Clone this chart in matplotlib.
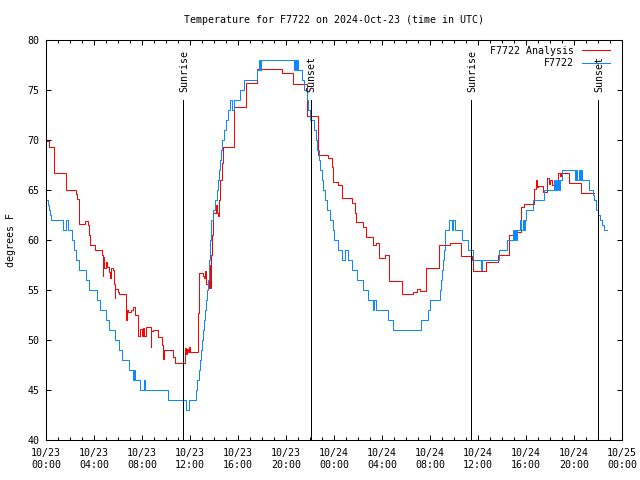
import numpy as np
import matplotlib
matplotlib.use("Agg")
import matplotlib.pyplot as plt

# ore dalle 00:00 UTC del 23 ottobre
blue_t = [0.0, 0.15, 0.25, 0.33, 0.42, 1.38, 1.64, 1.86, 2.17, 2.33, 2.5, 2.75, 3.37, 3.62,
          4.25, 4.5, 5.0, 5.25, 5.75, 6.08, 6.33, 6.92, 7.25, 7.33, 7.42, 7.83, 8.17, 8.25,
          10.17, 11.67, 11.92, 12.5, 12.62, 12.75, 12.83, 12.92, 13.0, 13.08, 13.17, 13.25,
          13.33, 13.42, 13.5, 13.58, 13.67, 13.75, 13.92, 14.08, 14.25, 14.33, 14.42, 14.5,
          14.58, 14.67, 14.83, 15.0, 15.17, 15.33, 15.5, 15.67, 16.17, 16.5, 17.58, 17.75,
          17.83, 17.92, 18.0, 20.69, 20.78, 20.86, 20.94, 21.03, 21.31, 21.53, 21.72, 21.83,
          22.04, 22.33, 22.5, 22.58, 22.71, 22.83, 22.96, 23.08, 23.25, 23.42, 23.67, 23.92,
          24.03, 24.33, 24.64, 24.92, 25.17, 25.5, 25.92, 26.42, 26.83, 27.25, 27.33, 27.5,
          28.5, 28.92, 31.25, 31.83, 32.0, 32.83, 32.92, 33.0, 33.08, 33.17, 33.25, 33.61,
          33.81, 33.89, 34.08, 34.67, 35.17, 35.56, 36.25, 36.36, 37.78, 38.44, 38.92, 39.0,
          39.08, 39.17, 39.25, 39.5, 39.6, 39.75, 39.85, 39.95, 40.0, 40.61, 41.5, 42.33,
          42.42, 42.5, 42.58, 42.67, 42.75, 42.83, 43.0, 44.08, 44.17, 44.29, 44.38, 44.5,
          44.58, 44.69, 45.28, 45.61, 45.67, 45.83, 46.0, 46.17, 46.33, 46.5, 46.72]
blue_v = [64, 63.5, 63, 62.5, 62, 61, 62, 61, 60, 59, 58, 57, 56, 55,
          54, 53, 52, 51, 50, 49, 48, 47, 46, 47, 46, 45, 46, 45,
          44, 43, 44, 45, 46, 47, 48, 49, 50, 51, 52, 53,
          54, 55, 56, 58, 60, 62, 63, 64, 65, 66, 67, 68,
          69, 70, 71, 72, 73, 74, 73, 74, 75, 76, 77, 78,
          77, 78, 78, 77, 78, 77, 78, 77, 76, 75, 74, 73,
          72, 71, 70, 69, 68, 67, 66, 65, 64, 63, 62, 61,
          60, 59, 58, 59, 58, 57, 56, 55, 54, 53, 54, 53,
          52, 51, 52, 53, 54, 55, 56, 57, 58, 59, 61, 62,
          61, 62, 61, 60, 59, 58, 57, 58, 59, 60, 61, 60,
          61, 60, 61, 62, 61, 62, 61, 62, 63, 64, 65, 66,
          65, 66, 65, 66, 65, 66, 67, 66, 67, 66, 67, 66,
          67, 66, 65, 64.5, 64, 63, 62.5, 62, 61.5, 61, 61]

red_t = [0.0, 0.25, 0.69, 1.64, 2.5, 2.58, 2.75, 3.25, 3.5, 3.62, 3.67, 4.08, 4.67, 4.72,
         4.78, 4.86, 5.0, 5.11, 5.28, 5.36, 5.4, 5.42, 5.56, 5.67, 5.72, 5.78, 5.97, 6.11,
         6.64, 6.69, 6.75, 6.83, 7.08, 7.25, 7.42, 7.64, 7.83, 7.96, 8.08, 8.19, 8.36, 8.72,
         8.78, 8.89, 9.33, 9.67, 9.78, 9.83, 10.61, 10.72, 11.58, 11.69, 11.75, 11.83, 11.94,
         12.03, 12.64, 12.72, 13.11, 13.19, 13.25, 13.36, 13.56, 13.62, 13.67, 13.75, 13.81,
         13.89, 14.17, 14.22, 14.33, 14.42, 14.5, 14.64, 14.72, 15.67, 16.64, 17.61, 19.64,
         20.61, 21.72, 22.64, 23.53, 23.81, 23.92, 23.94, 24.36, 24.64, 25.53, 25.75, 25.83,
         26.44, 26.67, 27.28, 27.5, 27.75, 28.25, 28.61, 29.69, 30.61, 30.92, 31.17, 31.67,
         32.78, 33.67, 34.56, 35.47, 35.61, 36.67, 37.69, 38.61, 39.08, 39.56, 39.83, 40.69,
         40.83, 40.92, 41.0, 41.42, 41.72, 41.88, 42.0, 42.17, 42.33, 42.69, 42.83, 42.88,
         43.61, 44.61, 45.67]
red_v = [69.9, 69.3, 66.7, 65.0, 64.6, 64.1, 61.6, 61.9, 61.5, 60.5, 59.5, 59.0, 58.5, 56.4,
         58.3, 57.2, 57.8, 57.3, 56.8, 56.2, 56.8, 57.2, 57.0, 55.6, 54.2, 55.1, 54.8, 54.6,
         53.2, 52.0, 53.0, 52.8, 53.0, 53.3, 52.5, 50.4, 51.1, 50.4, 51.2, 50.4, 51.3, 49.3,
         50.9, 51.0, 50.3, 49.5, 48.1, 49.0, 48.3, 47.7, 49.2, 48.6, 49.1, 48.8, 49.3,
         48.8, 52.7, 56.7, 56.4, 56.2, 56.9, 55.6, 55.2, 57.5, 55.2, 58.5, 60.5,
         62.7, 63.5, 62.7, 62.4, 64.0, 66.0, 67.7, 69.3, 73.3, 75.7, 77.1, 76.7,
         75.6, 72.4, 68.5, 68.2, 67.3, 66.7, 65.8, 65.5, 64.2, 63.7, 62.7, 61.8,
         61.3, 60.3, 59.5, 59.7, 58.2, 58.5, 55.9, 54.6, 54.8, 55.1, 54.9, 57.2,
         59.5, 59.7, 58.4, 58.0, 56.9, 57.8, 58.5, 60.5, 60.8, 63.3, 63.6, 65.1,
         66.0, 65.3, 65.4, 64.8, 66.2, 65.6, 66.0, 65.5, 65.8, 66.7, 66.4, 66.7,
         65.7, 64.7, 64.7]

sun_t = [11.44, 22.06, 35.44, 46.03]
sun_labels = ["Sunrise", "Sunset", "Sunrise", "Sunset"]

xticks = list(range(0, 49, 4))
xtick_labels = ["10/23\n00:00", "10/23\n04:00", "10/23\n08:00", "10/23\n12:00",
                "10/23\n16:00", "10/23\n20:00", "10/24\n00:00", "10/24\n04:00",
                "10/24\n08:00", "10/24\n12:00", "10/24\n16:00", "10/24\n20:00",
                "10/25\n00:00"]
yticks = [40, 45, 50, 55, 60, 65, 70, 75, 80]

plt.rcParams['font.family'] = ['DejaVu Sans Mono']
plt.rcParams['font.size'] = 7.2

fig = plt.figure(figsize=(6.4, 4.8), dpi=100)
ax = fig.add_axes([46 / 640, 40 / 480, 576 / 640, 400 / 480])

lw = 0.72
ax.plot(red_t, red_v, drawstyle='steps-post', color='#ff0000', lw=lw,
        label='F7722 Analysis')
ax.plot(blue_t, blue_v, drawstyle='steps-post', color='#0a88ff', lw=lw,
        label='F7722')

for t, lab in zip(sun_t, sun_labels):
    ax.plot([t, t], [40, 74], color='black', lw=lw)
    ax.text(t + 0.08, 74.8, lab, rotation=90, ha='center', va='bottom')

ax.set_xlim(0, 48)
ax.set_ylim(40, 80)
ax.set_xticks(xticks)
ax.set_xticklabels(xtick_labels)
ax.set_xticks(range(0, 49), minor=True)
ax.set_yticks(yticks)
ax.tick_params(which='both', direction='in', top=True, right=True, width=0.75)
ax.tick_params(which='major', length=3.8)
ax.tick_params(which='minor', length=2.2)
ax.tick_params(axis='x', pad=6)
ax.tick_params(axis='y', pad=4.5)
for s in ax.spines.values():
    s.set_linewidth(0.75)

ax.set_title("Temperature for F7722 on 2024-Oct-23 (time in UTC)", fontsize=7.2, pad=12)
ax.set_ylabel("degrees F")
ax.yaxis.set_label_coords(-0.052, 0.5)

ax.legend(loc='upper right', bbox_to_anchor=(0.979, 0.985), frameon=False,
          markerfirst=False, handlelength=2.8, handletextpad=0.8,
          borderpad=0, borderaxespad=0, labelspacing=0.25)

fig.savefig("out.png", dpi=100)
